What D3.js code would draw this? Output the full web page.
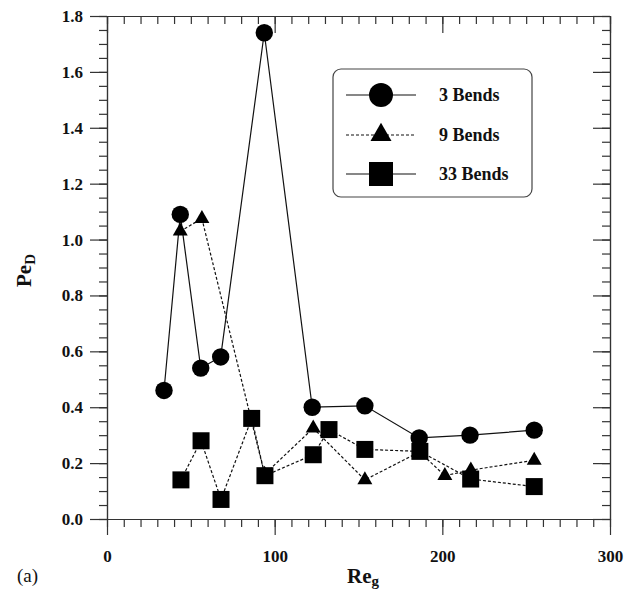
<!DOCTYPE html>
<html>
<head>
<meta charset="utf-8">
<script src="https://cdn.jsdelivr.net/npm/d3@7"></script>
<style>
  body { margin: 0; background: #fff; }
  svg text { font-family: "Liberation Serif", "Tinos", "Times New Roman", "DejaVu Serif", serif !important; fill: #111; }
</style>
</head>
<body>
<div id="chart"></div>
<script>
// data
const reg3 = [34, 43.7, 55.9, 67.8, 93.8, 122.4, 153.8, 186.2, 216.5, 254.8];
const pe3 = [0.46, 1.09, 0.54, 0.58, 1.74, 0.40, 0.405, 0.29, 0.30, 0.318];

const reg9 = [43.7, 56.6, 94, 123, 153.8, 186.4, 201.5, 217, 254.8];
const pe9 = [1.03, 1.075, 0.16, 0.325, 0.14, 0.24, 0.155, 0.175, 0.21];

const reg33 = [44.1, 56.1, 68, 86.3, 94.2, 123, 132.4, 153.8, 186.6, 216.9, 254.8];
const pe33 = [0.14, 0.28, 0.07, 0.36, 0.155, 0.23, 0.32, 0.249, 0.242, 0.143, 0.116];

const seriesNames = ["3 Bends", "9 Bends", "33 Bends"];
const xTicks = [0, 100, 200, 300];
const yTicks = [0, 0.2, 0.4, 0.6, 0.8, 1.0, 1.2, 1.4, 1.6, 1.8];

const width = 631;
const height = 591;

const svg = d3.select("#chart").append("svg")
  .attr("width", width)
  .attr("height", height);

// scales
const x = d3.scaleLinear().domain([0, 300]).range([107, 610]);
const y = d3.scaleLinear().domain([0, 1.8]).range([519, 16]);

const axisColor = "#333";

function styleAxis(g) {
  g.attr("font-family", null);
  g.selectAll("path, line").attr("stroke", axisColor).attr("stroke-width", 1.2);
  g.selectAll("text")
    .style("font-weight", "bold")
    .style("font-size", "17px")
    .attr("fill", "#111");
}

// minor ticks
svg.append("g")
  .attr("transform", `translate(0,${y(0)})`)
  .call(d3.axisBottom(x).tickValues(d3.range(0, 301, 10)).tickSize(8).tickSizeOuter(0).tickFormat(""))
  .call(styleAxis);
svg.append("g")
  .attr("transform", `translate(0,${y(1.8)})`)
  .call(d3.axisTop(x).tickValues(d3.range(0, 301, 10)).tickSize(-8).tickSizeOuter(0).tickFormat(""))
  .call(styleAxis);
svg.append("g")
  .attr("transform", `translate(${x(0)},0)`)
  .call(d3.axisLeft(y).tickValues(d3.range(0, 37).map(i => i * 0.05)).tickSize(8).tickSizeOuter(0).tickFormat(""))
  .call(styleAxis);
svg.append("g")
  .attr("transform", `translate(${x(300)},0)`)
  .call(d3.axisRight(y).tickValues(d3.range(0, 37).map(i => i * 0.05)).tickSize(-8).tickSizeOuter(0).tickFormat(""))
  .call(styleAxis);

// major ticks with labels
svg.append("g")
  .attr("transform", `translate(0,${y(0)})`)
  .call(d3.axisBottom(x).tickValues(xTicks).tickSize(16).tickSizeOuter(0).tickPadding(15).tickFormat(d3.format("d")))
  .call(styleAxis);
svg.append("g")
  .attr("transform", `translate(0,${y(1.8)})`)
  .call(d3.axisTop(x).tickValues(xTicks).tickSize(-17).tickSizeOuter(0).tickFormat(""))
  .call(styleAxis);
svg.append("g")
  .attr("transform", `translate(${x(0)},0)`)
  .call(d3.axisLeft(y).tickValues(yTicks).tickSize(17).tickSizeOuter(0).tickPadding(7).tickFormat(d3.format(".1f")))
  .call(styleAxis);
svg.append("g")
  .attr("transform", `translate(${x(300)},0)`)
  .call(d3.axisRight(y).tickValues(yTicks).tickSize(-17).tickSizeOuter(0).tickFormat(""))
  .call(styleAxis);

// axis titles
const xTitle = svg.append("text")
  .attr("x", 347)
  .attr("y", 583)
  .style("font-size", "21px")
  .style("font-weight", "bold");
xTitle.append("tspan").text("Re");
xTitle.append("tspan").attr("dy", 3).style("font-size", "15px").text("g");

const yTitle = svg.append("text")
  .attr("transform", "translate(31,287) rotate(-90)")
  .style("font-size", "21px")
  .style("font-weight", "bold");
yTitle.append("tspan").text("Pe");
yTitle.append("tspan").attr("dy", 4).style("font-size", "15px").text("D");

svg.append("text")
  .attr("x", 17)
  .attr("y", 582)
  .style("font-size", "19px")
  .text("(a)");

// series
const series = [
  { name: seriesNames[0], xs: reg3, ys: pe3, shape: d3.symbolCircle, size: 238, legendSize: 452, dash: null, legendDash: null },
  { name: seriesNames[1], xs: reg9, ys: pe9, shape: d3.symbolTriangle, size: 97, legendSize: 191, dash: "3,2", legendDash: "3,2" },
  { name: seriesNames[2], xs: reg33, ys: pe33, shape: d3.symbolSquare, size: 289, legendSize: 576, dash: "3,2", legendDash: null }
];

const line = d3.line().x(d => x(d[0])).y(d => y(d[1]));

series.forEach(s => {
  const pts = s.xs.map((v, i) => [v, s.ys[i]]);
  svg.append("path")
    .datum(pts)
    .attr("d", line)
    .attr("fill", "none")
    .attr("stroke", "#111")
    .attr("stroke-width", 1.2)
    .attr("stroke-dasharray", s.dash);
});

series.forEach(s => {
  const pts = s.xs.map((v, i) => [v, s.ys[i]]);
  svg.append("g").selectAll("path")
    .data(pts)
    .enter()
    .append("path")
    .attr("transform", d => `translate(${x(d[0])},${y(d[1])})`)
    .attr("d", d3.symbol().type(s.shape).size(s.size))
    .attr("fill", "#000");
});

// legend
const legend = svg.append("g");
legend.append("rect")
  .attr("x", 333).attr("y", 69)
  .attr("width", 199).attr("height", 128)
  .attr("rx", 8)
  .attr("fill", "#fff")
  .attr("stroke", "#444")
  .attr("stroke-width", 1.2);

const rowY = [95, 135, 174];
series.forEach((s, i) => {
  const row = legend.append("g").attr("transform", `translate(0,${rowY[i]})`);
  row.append("line")
    .attr("x1", 346).attr("x2", 416)
    .attr("stroke", "#111")
    .attr("stroke-width", 1.2)
    .attr("stroke-dasharray", s.legendDash);
  row.append("path")
    .attr("transform", "translate(381,0)")
    .attr("d", d3.symbol().type(s.shape).size(s.legendSize))
    .attr("fill", "#000");
  row.append("text")
    .attr("x", 439)
    .attr("dy", "0.35em")
    .style("font-size", "18px")
    .style("font-weight", "bold")
    .text(s.name);
});
</script>
</body>
</html>
